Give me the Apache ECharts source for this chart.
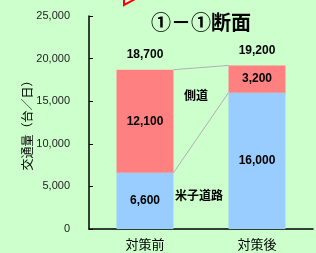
<!DOCTYPE html>
<html>
<head>
<meta charset="utf-8">
<script src="https://cdn.jsdelivr.net/npm/echarts@6/dist/echarts.min.js"></script>
<style>
  html, body { margin: 0; padding: 0; background: #ccffcc; }
  #chart { width: 316px; height: 253px; }
</style>
</head>
<body>
<div id="chart"></div>
<script>
const categories = ["対策前", "対策後"];
const mainRoad = [6600, 16000];   // 米子道路
const sideRoad = [12100, 3200];   // 側道
const totals = [18700, 19200];
const yTicks = [0, 5000, 10000, 15000, 20000, 25000];

const jpFont = "'Noto Sans CJK JP', sans-serif";
const numFont = "'Liberation Sans', Arial, sans-serif";

const chart = echarts.init(document.getElementById("chart"));

const boldLabel = {
  show: true,
  color: "#000",
  fontFamily: numFont,
  fontWeight: "bold",
  fontSize: 12,
  formatter: (p) => p.value.toLocaleString("en-US")
};

chart.setOption({
  backgroundColor: "#ccffcc",
  animation: false,
  title: {
    text: "①－①断面",
    left: 196,
    top: 7,
    textAlign: "center",
    textStyle: { fontFamily: jpFont, fontSize: 20, fontWeight: "bold", color: "#000" }
  },
  grid: { left: 89, right: 3, top: 16, bottom: 24 },
  xAxis: {
    type: "category",
    data: categories,
    axisLine: { lineStyle: { color: "#000", width: 1.5 } },
    axisTick: { inside: true, length: 4, lineStyle: { color: "#000" } },
    axisLabel: { color: "#000", fontFamily: jpFont, fontSize: 13, margin: 9 }
  },
  yAxis: {
    type: "value",
    min: yTicks[0],
    max: yTicks[yTicks.length - 1],
    interval: 5000,
    name: "交通量（台／日）",
    nameLocation: "middle",
    nameRotate: 90,
    nameGap: 56,
    nameMoveOverlap: false,
    nameTextStyle: { fontFamily: jpFont, fontSize: 12, color: "#000" },
    axisLine: { show: true, lineStyle: { color: "#000", width: 1.5 } },
    axisTick: { show: true, inside: true, length: 4, lineStyle: { color: "#000" } },
    splitLine: { show: false },
    axisLabel: {
      color: "#222",
      fontFamily: numFont,
      fontSize: 11,
      margin: 19,
      formatter: (v) => v.toLocaleString("en-US")
    }
  },
  series: [
    {
      name: "米子道路",
      type: "bar",
      stack: "traffic",
      barWidth: 57,
      data: mainRoad,
      itemStyle: { color: "#99ccff" },
      label: { ...boldLabel, position: "inside" }
    },
    {
      name: "側道",
      type: "bar",
      stack: "traffic",
      barWidth: 57,
      data: sideRoad,
      itemStyle: { color: "#ff8080" },
      label: { ...boldLabel, position: "inside" }
    },
    {
      name: "合計",
      type: "bar",
      barWidth: 57,
      barGap: "-100%",
      z: 1,
      data: totals,
      itemStyle: { color: "rgba(0,0,0,0)" },
      label: { ...boldLabel, position: "top", distance: 9 }
    }
  ]
});

// series lines between the stacked segments, plus the series name texts
function edge(idx, value, side) {
  const [cx, cy] = chart.convertToPixel({ seriesIndex: 0 }, [idx, value]);
  return [cx + side * 28.5, cy];
}
const lowBoundary = [edge(0, mainRoad[0], 1), edge(1, mainRoad[1], -1)];
const topBoundary = [
  edge(0, mainRoad[0] + sideRoad[0], 1),
  edge(1, mainRoad[1] + sideRoad[1], -1)
];

chart.setOption({
  graphic: [
    { type: "line", shape: { x1: lowBoundary[0][0], y1: lowBoundary[0][1], x2: lowBoundary[1][0], y2: lowBoundary[1][1] },
      style: { stroke: "#b0b0b0", lineWidth: 1 } },
    { type: "line", shape: { x1: topBoundary[0][0], y1: topBoundary[0][1], x2: topBoundary[1][0], y2: topBoundary[1][1] },
      style: { stroke: "#b0b0b0", lineWidth: 1 } },
    { type: "text", left: 184, top: 89,
      style: { text: "側道", font: "bold 12px " + jpFont, fill: "#000" } },
    { type: "text", left: 175, top: 189,
      style: { text: "米子道路", font: "bold 12px " + jpFont, fill: "#000" } },
    { type: "polyline", shape: { points: [[124, -2], [124, 5], [137, -2]] },
      style: { stroke: "#ff0000", lineWidth: 2, fill: "#ffffff" } }
  ]
});
</script>
</body>
</html>
